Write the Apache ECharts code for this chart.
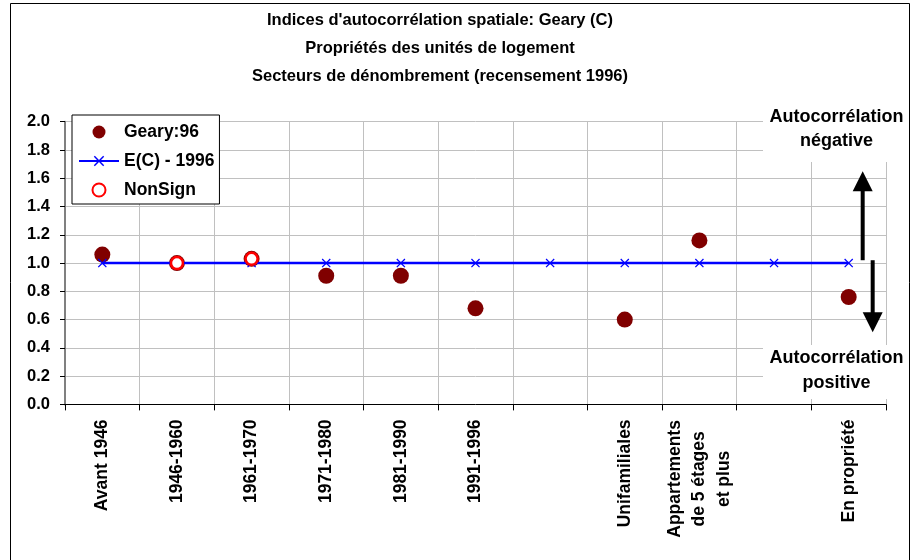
<!DOCTYPE html>
<html><head><meta charset="utf-8">
<script src="https://cdn.jsdelivr.net/npm/echarts@6/dist/echarts.min.js"></script>
<style>html,body{margin:0;padding:0;background:#fff}#c{width:915px;height:560px}</style>
</head><body><div id="c"></div>
<script>
const categories = ['Avant 1946','1946-1960','1961-1970','1971-1980','1981-1990','1991-1996',' ','Unifamiliales','Appartements\nde 5 étages\net plus','  ','En propriété'];
const gearyValues = [1.06, 1.00, 1.03, 0.91, 0.91, 0.68, '-', 0.60, 1.16, '-', 0.76];
const expectedValues = [1.0, 1.0, 1.0, 1.0, 1.0, 1.0, 1.0, 1.0, 1.0, 1.0, 1.0];
const nonSignValues = ['-', 1.00, 1.03, '-', '-', '-', '-', '-', '-', '-', '-'];
const yMin = 0, yMax = 2.0, yInterval = 0.2;
const titleLines = ["Indices d'autocorrélation spatiale: Geary (C)", "Propriétés des unités de logement", "Secteurs de dénombrement (recensement 1996)"];
const noteTop = 'Autocorrélation\nnégative';
const noteBottom = 'Autocorrélation\npositive';

const FF = '"Liberation Sans", Arial, Helvetica, sans-serif';
const chart = echarts.init(document.getElementById('c'), null, {renderer: 'canvas'});
const xPath = 'path://M1,0L5,4L9,0L10,1L6,5L10,9L9,10L5,6L1,10L0,9L4,5L0,1Z';

chart.setOption({
  animation: false,
  backgroundColor: '#fff',
  textStyle: {fontFamily: FF},
  title: {
    text: titleLines.join('\n'),
    left: 440, top: 6, textAlign: 'center', padding: 0,
    textStyle: {fontFamily: FF, fontSize: 16.5, fontWeight: 'bold', color: '#000', lineHeight: 28}
  },
  legend: {
    orient: 'vertical', left: 72, top: 115,
    padding: [8, 5, 5, 6], itemGap: 11, itemWidth: 40, itemHeight: 13, itemTextGap: 4,
    backgroundColor: '#fff', borderColor: '#000', borderWidth: 1, borderRadius: 0,
    textStyle: {fontFamily: FF, fontSize: 17.5, fontWeight: 'bold', color: '#000'},
    data: ['Geary:96', 'E(C) - 1996', 'NonSign']
  },
  grid: {left: 65, right: 29, top: 121.7, bottom: 155.6, containLabel: false},
  xAxis: {
    type: 'category', data: categories, boundaryGap: true,
    axisLine: {lineStyle: {color: '#000', width: 1}},
    axisTick: {show: true, interval: 0, length: 6, lineStyle: {color: '#000'}},
    splitLine: {show: true, interval: 0, lineStyle: {color: '#c0c0c0', width: 1}},
    axisLabel: {
      interval: 0, rotate: 90, margin: 15, color: '#000',
      fontFamily: FF, fontSize: 17.5, fontWeight: 'bold',
      formatter: function (v) {
        if (v.indexOf('\n') < 0) return v;
        return v.split('\n').map(s => '{c|' + s + '}').join('\n');
      },
      rich: {c: {fontFamily: FF, fontSize: 17.5, fontWeight: 'bold', color: '#000', width: 119, align: 'center', lineHeight: 24.5}}
    }
  },
  yAxis: {
    type: 'value', min: yMin, max: yMax, interval: yInterval,
    axisLine: {show: true, lineStyle: {color: '#808080', width: 2}},
    axisTick: {show: true, length: 5, lineStyle: {color: '#000'}},
    splitLine: {show: true, lineStyle: {color: '#c0c0c0', width: 1}},
    axisLabel: {margin: 15, color: '#000', fontFamily: FF, fontSize: 16.5, fontWeight: 'bold',
      formatter: v => v.toFixed(1)}
  },
  series: [
    {name: 'Geary:96', type: 'scatter', data: gearyValues, symbol: 'circle', symbolSize: 16,
      itemStyle: {color: '#800000', opacity: 1}, emphasis: {disabled: true}, z: 2},
    {name: 'E(C) - 1996', type: 'line', data: expectedValues, symbol: xPath, symbolSize: 9, showSymbol: true,
      lineStyle: {color: '#0000ff', width: 2.5}, itemStyle: {color: '#0000ff', opacity: 1}, emphasis: {disabled: true}, z: 3},
    {name: 'NonSign', type: 'scatter', data: nonSignValues, symbol: 'circle', symbolSize: 12,
      itemStyle: {color: '#ffffff', borderColor: '#ff0000', borderWidth: 2.5, opacity: 1}, emphasis: {disabled: true}, z: 4}
  ]
});

function addAnnotations() {
  const base = chart.convertToPixel({xAxisIndex: 0}, categories[categories.length - 1]);
  const yStart = chart.convertToPixel({yAxisIndex: 0}, 1.02);
  const yUpTip = chart.convertToPixel({yAxisIndex: 0}, 1.65);
  const yDownTip = chart.convertToPixel({yAxisIndex: 0}, 0.51);
  const upX = base + 14, downX = base + 24;
  const headH = 20, headW = 10;
  chart.setOption({
    graphic: [
      {type: 'rect', z: 50, shape: {x: 763, y: 100, width: 148, height: 62}, style: {fill: '#fff'}},
      {type: 'text', z: 51, x: 836.5, y: 105, style: {text: noteTop, fill: '#000', font: 'bold 18px ' + FF, align: 'center', verticalAlign: 'top', lineHeight: 24}},
      {type: 'rect', z: 50, shape: {x: 763, y: 345, width: 148, height: 54}, style: {fill: '#fff'}},
      {type: 'text', z: 51, x: 836.5, y: 346, style: {text: noteBottom, fill: '#000', font: 'bold 18px ' + FF, align: 'center', verticalAlign: 'top', lineHeight: 25}},
      {type: 'rect', z: 52, shape: {x: upX - 2, y: yUpTip + headH - 1, width: 4, height: yStart - yUpTip - headH + 1}, style: {fill: '#000'}},
      {type: 'polygon', z: 52, shape: {points: [[upX - headW, yUpTip + headH], [upX + headW, yUpTip + headH], [upX, yUpTip]]}, style: {fill: '#000'}},
      {type: 'rect', z: 52, shape: {x: downX - 2, y: yStart, width: 4, height: yDownTip - headH - yStart + 1}, style: {fill: '#000'}},
      {type: 'polygon', z: 52, shape: {points: [[downX - headW, yDownTip - headH], [downX + headW, yDownTip - headH], [downX, yDownTip]]}, style: {fill: '#000'}},
      {type: 'rect', z: 60, shape: {x: 10.5, y: 3.5, width: 899, height: 562}, style: {fill: 'none', stroke: '#000', lineWidth: 1}}
    ]
  });
}
addAnnotations();
</script>
</body></html>
